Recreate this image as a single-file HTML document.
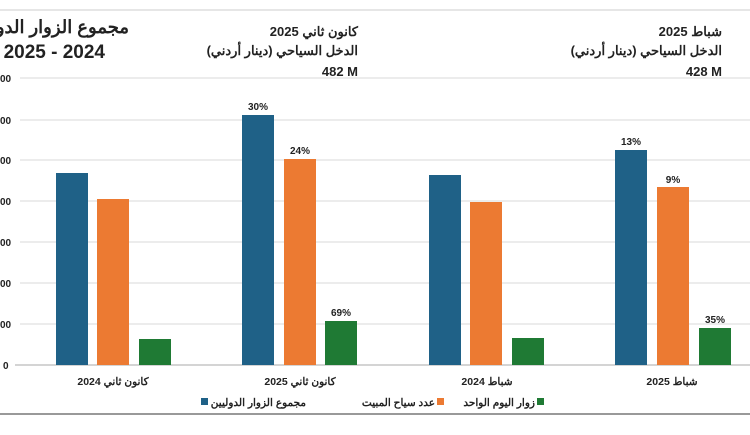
<!DOCTYPE html>
<html><head><meta charset="utf-8"><style>
body{margin:0;background:#fff;}
svg text{font-family:"Liberation Sans","Noto Sans CJK SC",sans-serif;font-weight:bold;fill:#222;}
</style></head><body>
<svg width="750" height="430" xmlns="http://www.w3.org/2000/svg">
<rect width="750" height="430" fill="#fff"/>
<line x1="0" y1="10" x2="750" y2="10" stroke="#ddd" stroke-width="1.5"/>
<g stroke="#d9d9d9" stroke-width="1">
<line x1="20" y1="78" x2="750" y2="78"/>
<line x1="20" y1="120" x2="750" y2="120"/>
<line x1="20" y1="160" x2="750" y2="160"/>
<line x1="20" y1="201" x2="750" y2="201"/>
<line x1="20" y1="242" x2="750" y2="242"/>
<line x1="20" y1="283" x2="750" y2="283"/>
<line x1="20" y1="324" x2="750" y2="324"/>
</g>
<line x1="15" y1="365" x2="750" y2="365" stroke="#bbb" stroke-width="1.2"/>
<g font-size="10">
<text x="0" y="82">00</text><text x="0" y="124">00</text><text x="0" y="164">00</text>
<text x="0" y="205">00</text><text x="0" y="246">00</text><text x="0" y="287">00</text>
<text x="0" y="328">00</text><text x="3" y="369">0</text>
</g>
<text x="129" y="33" font-size="18" direction="rtl" text-anchor="start">مجموع الزوار الدولي</text>
<text x="105" y="58" font-size="19" text-anchor="end">2025 - 2024</text>
<g font-size="13" direction="rtl" text-anchor="start">
<text x="358" y="36">كانون ثاني 2025</text>
<text x="358" y="55">الدخل السياحي (دينار أردني)</text>
<text x="722" y="36">شباط  2025</text>
<text x="722" y="55">الدخل السياحي (دينار أردني)</text>
</g>
<g font-size="13" text-anchor="end" direction="ltr">
<text x="358" y="76">482 M</text>
<text x="722" y="76">428 M</text>
</g>
<g>
<rect x="56" y="173" width="32" height="192" fill="#1f6187"/>
<rect x="97" y="199" width="32" height="166" fill="#ec7a32"/>
<rect x="139" y="339" width="32" height="26" fill="#1f7a34"/>
<rect x="242" y="115" width="32" height="250" fill="#1f6187"/>
<rect x="284" y="159" width="32" height="206" fill="#ec7a32"/>
<rect x="325" y="321" width="32" height="44" fill="#1f7a34"/>
<rect x="429" y="175" width="32" height="190" fill="#1f6187"/>
<rect x="470" y="202" width="32" height="163" fill="#ec7a32"/>
<rect x="512" y="338" width="32" height="27" fill="#1f7a34"/>
<rect x="615" y="150" width="32" height="215" fill="#1f6187"/>
<rect x="657" y="187" width="32" height="178" fill="#ec7a32"/>
<rect x="699" y="328" width="32" height="37" fill="#1f7a34"/>
</g>
<g font-size="10" text-anchor="middle">
<text x="258" y="110">30%</text><text x="300" y="154">24%</text><text x="341" y="316">69%</text>
<text x="631" y="145">13%</text><text x="673" y="183">9%</text><text x="715" y="323">35%</text>
</g>
<g font-size="10.5" text-anchor="middle">
<text x="113" y="385" direction="rtl">كانون ثاني 2024</text>
<text x="300" y="385" direction="rtl">كانون ثاني 2025</text>
<text x="487" y="385" direction="rtl">شباط  2024</text>
<text x="672" y="385" direction="rtl">شباط  2025</text>
</g>
<g font-size="10.5" direction="rtl" text-anchor="start">
<rect x="201" y="398" width="7" height="7" fill="#1f6187"/>
<text x="306" y="406">مجموع الزوار الدوليين</text>
<text x="435" y="406">عدد سياح المبيت</text>
<rect x="437" y="398" width="7" height="7" fill="#ec7a32"/>
<text x="535" y="406">زوار اليوم الواحد</text>
<rect x="537" y="398" width="7" height="7" fill="#1f7a34"/>
</g>
<line x1="0" y1="414" x2="750" y2="414" stroke="#999" stroke-width="2"/>
</svg>
</body></html>
